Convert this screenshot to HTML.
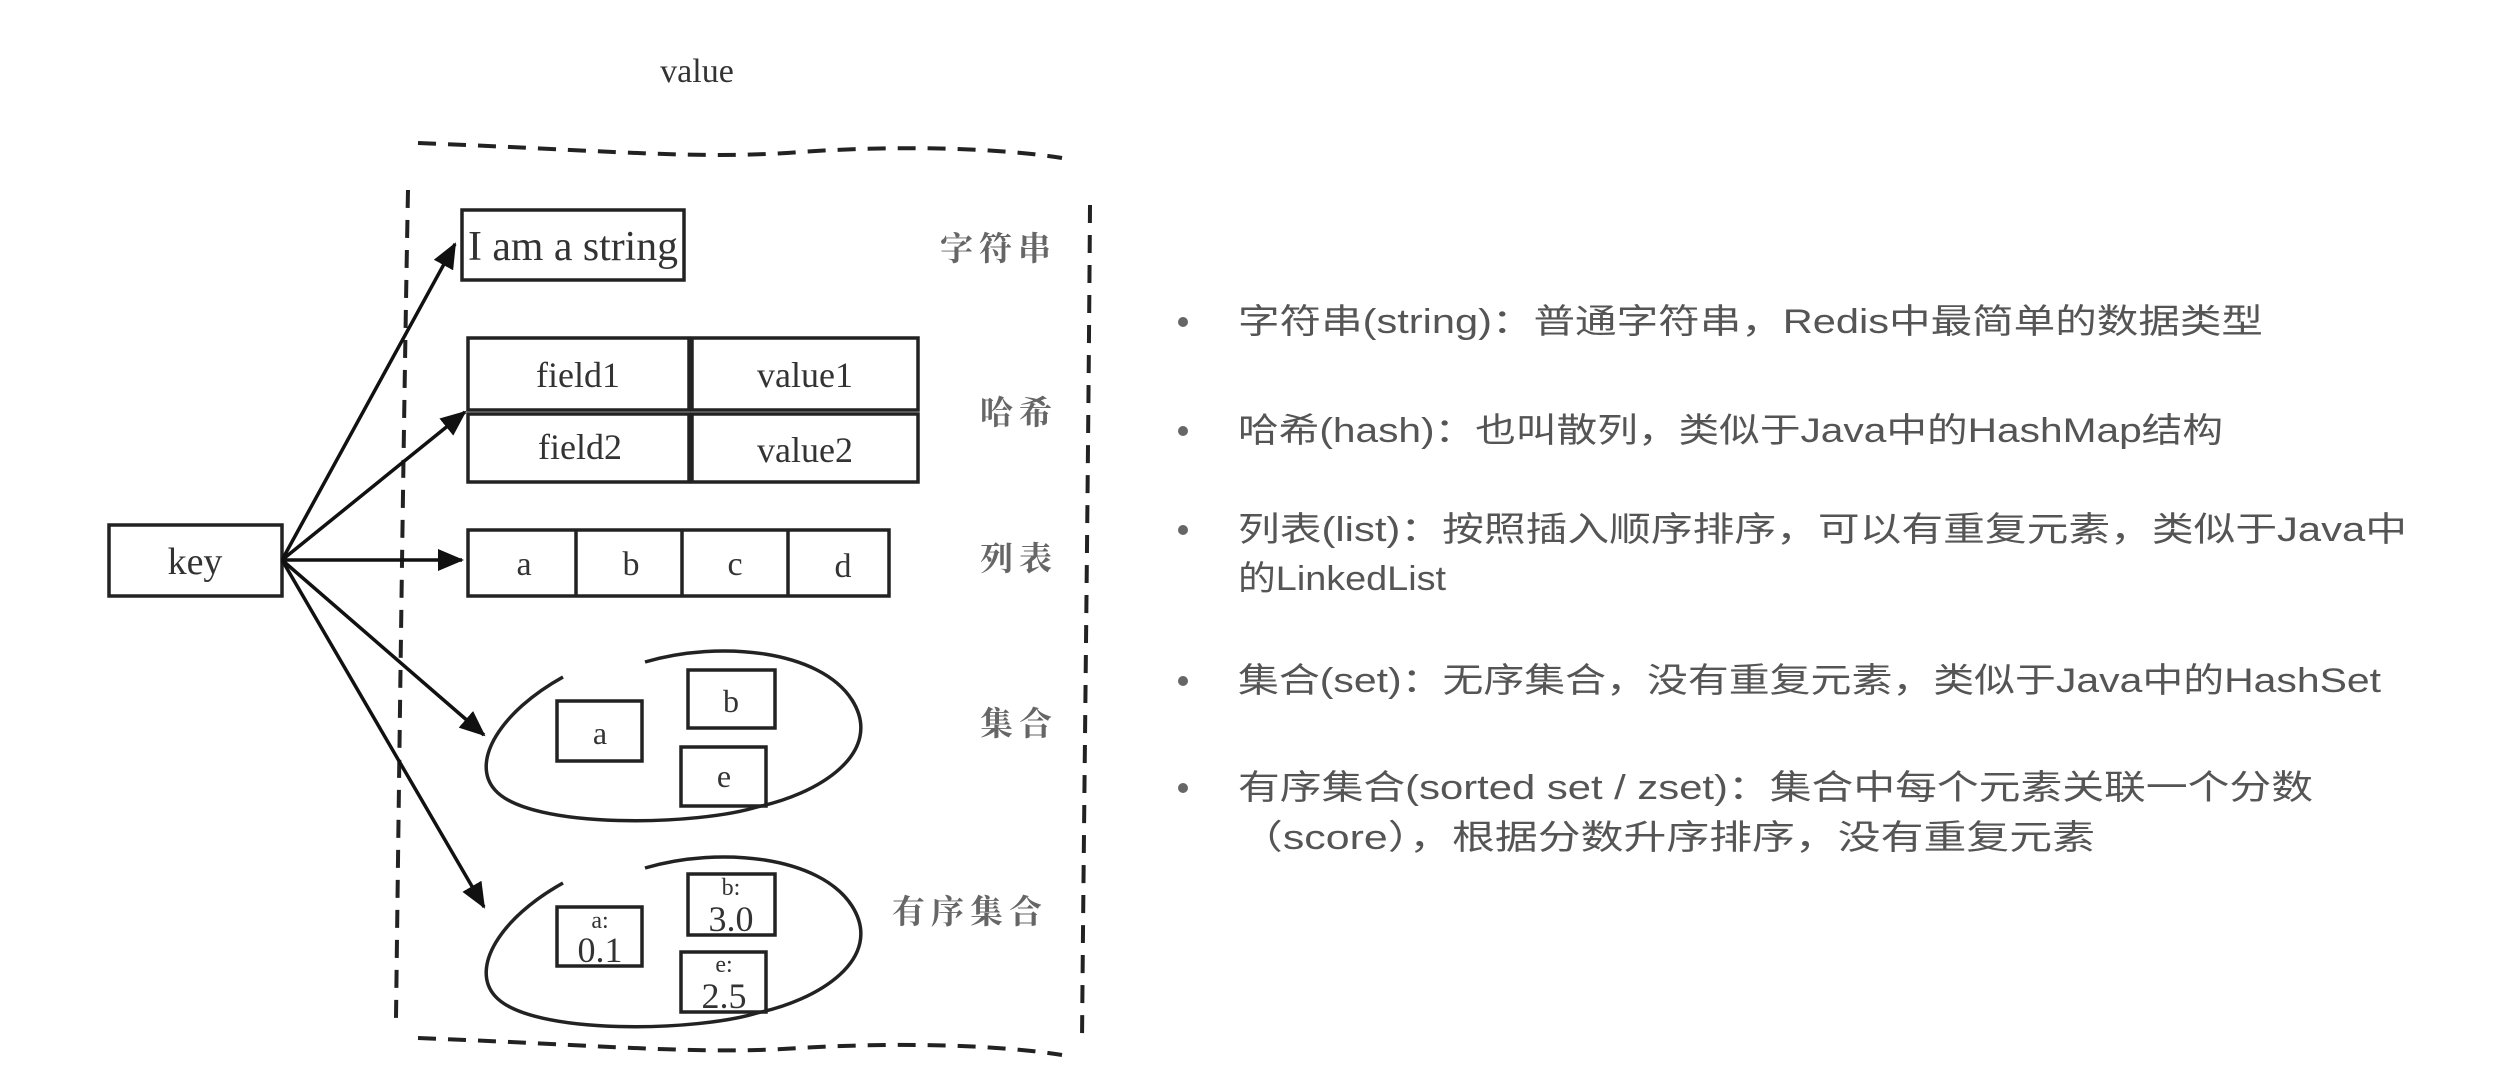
<!DOCTYPE html>
<html><head><meta charset="utf-8"><style>
html,body{margin:0;padding:0;background:#fff;}
svg{display:block;}
.s{font-family:"Liberation Serif",serif;fill:#333;}
.c{font-family:"Liberation Sans","Noto Sans CJK SC",sans-serif;fill:#555;font-size:34px;}
.h{font-family:"Noto Serif CJK SC","Noto Sans CJK SC",serif;fill:#666;font-size:33px;letter-spacing:6px;font-weight:bold;}
</style></head><body>
<svg width="2511" height="1088" viewBox="0 0 2511 1088" xmlns="http://www.w3.org/2000/svg">
<defs>
<marker id="ar2" markerWidth="26" markerHeight="22" refX="24" refY="11" orient="auto" markerUnits="userSpaceOnUse"><path d="M0,0 L26,11 L0,22 z" fill="#111"/></marker></defs>
<rect width="2511" height="1088" fill="#fff"/>
<text x="697" y="82" class="s" font-size="34" text-anchor="middle">value</text>
<g stroke="#222" stroke-width="4" fill="none" stroke-dasharray="18 12">
<path d="M418,143 C600,150 700,160 800,152 C900,145 1000,148 1062,158"/>
<path d="M408,190 C404,400 400,700 396,1018"/>
<path d="M1090,205 C1088,500 1084,800 1082,1042"/>
<path d="M418,1038 C600,1045 700,1055 800,1048 C900,1042 1000,1045 1062,1055"/>
</g>
<g stroke="#222" stroke-width="3.5" fill="none">
<rect x="109" y="525" width="173" height="71"/>
<rect x="462" y="210" width="222" height="70"/>
<rect x="468" y="338" width="221" height="72"/>
<rect x="692" y="338" width="226" height="72"/>
<rect x="468" y="414" width="221" height="68"/>
<rect x="692" y="414" width="226" height="68"/>
<rect x="468" y="530" width="421" height="66"/>
<line x1="576" y1="530" x2="576" y2="596"/>
<line x1="682" y1="530" x2="682" y2="596"/>
<line x1="788" y1="530" x2="788" y2="596"/>
<rect x="557" y="701" width="85" height="60"/>
<rect x="688" y="670" width="87" height="58"/>
<rect x="681" y="747" width="85" height="59"/>
<path d="M563,677 C500,712 470,762 495,790 C530,830 700,826 760,806"/>
<path d="M645,662 C720,640 820,650 852,700 C885,752 820,795 752,808"/>
<rect x="557" y="907" width="85" height="59"/>
<rect x="688" y="874" width="87" height="61"/>
<rect x="681" y="952" width="85" height="60"/>
<path d="M563,883 C500,918 470,968 495,996 C530,1036 700,1032 760,1012"/>
<path d="M645,868 C720,846 820,856 852,906 C885,958 820,1001 752,1014"/>
</g>
<g stroke="#111" stroke-width="3.5" fill="none" marker-end="url(#ar2)">
<line x1="282" y1="560" x2="455" y2="244"/>
<line x1="282" y1="560" x2="465" y2="412"/>
<line x1="282" y1="560" x2="462" y2="560"/>
<line x1="282" y1="560" x2="484" y2="735"/>
<line x1="282" y1="560" x2="484" y2="907"/>
</g>
<text x="195" y="574" class="s" font-size="38" text-anchor="middle">key</text>
<text x="573" y="260" class="s" font-size="42" text-anchor="middle" textLength="210" lengthAdjust="spacingAndGlyphs">I am a string</text>
<text x="578" y="387" class="s" font-size="36" text-anchor="middle">field1</text>
<text x="805" y="387" class="s" font-size="36" text-anchor="middle">value1</text>
<text x="580" y="459" class="s" font-size="36" text-anchor="middle">field2</text>
<text x="805" y="462" class="s" font-size="36" text-anchor="middle">value2</text>
<text x="524" y="575" class="s" font-size="34" text-anchor="middle">a</text>
<text x="631" y="575" class="s" font-size="34" text-anchor="middle">b</text>
<text x="735" y="575" class="s" font-size="34" text-anchor="middle">c</text>
<text x="843" y="577" class="s" font-size="34" text-anchor="middle">d</text>
<text x="600" y="744" class="s" font-size="32" text-anchor="middle">a</text>
<text x="731" y="712" class="s" font-size="32" text-anchor="middle">b</text>
<text x="724" y="787" class="s" font-size="32" text-anchor="middle">e</text>
<text x="600" y="928" class="s" font-size="24" text-anchor="middle">a:</text>
<text x="600" y="962" class="s" font-size="36" text-anchor="middle">0.1</text>
<text x="731" y="895" class="s" font-size="24" text-anchor="middle">b:</text>
<text x="731" y="931" class="s" font-size="36" text-anchor="middle">3.0</text>
<text x="724" y="972" class="s" font-size="24" text-anchor="middle">e:</text>
<text x="724" y="1008" class="s" font-size="36" text-anchor="middle">2.5</text>
<text x="940" y="260" class="h">字符串</text>
<text x="980" y="424" class="h">哈希</text>
<text x="980" y="570" class="h">列表</text>
<text x="980" y="735" class="h">集合</text>
<text x="892" y="923" class="h">有序集合</text>
<g fill="#666"><circle cx="1183" cy="322" r="5"/><circle cx="1183" cy="431" r="5"/><circle cx="1183" cy="530" r="5"/><circle cx="1183" cy="681" r="5"/><circle cx="1183" cy="788" r="5"/></g>
<text x="1238" y="333" class="c" textLength="1025" lengthAdjust="spacingAndGlyphs">字符串(string)：普通字符串，Redis中最简单的数据类型</text>
<text x="1238" y="442" class="c" textLength="985" lengthAdjust="spacingAndGlyphs">哈希(hash)：也叫散列，类似于Java中的HashMap结构</text>
<text x="1238" y="541" class="c" textLength="1169" lengthAdjust="spacingAndGlyphs">列表(list)：按照插入顺序排序，可以有重复元素，类似于Java中</text>
<text x="1238" y="590" class="c" textLength="208" lengthAdjust="spacingAndGlyphs">的LinkedList</text>
<text x="1238" y="692" class="c" textLength="1143" lengthAdjust="spacingAndGlyphs">集合(set)：无序集合，没有重复元素，类似于Java中的HashSet</text>
<text x="1238" y="799" class="c" textLength="1075" lengthAdjust="spacingAndGlyphs">有序集合(sorted set / zset)：集合中每个元素关联一个分数</text>
<text x="1240" y="849" class="c" textLength="855" lengthAdjust="spacingAndGlyphs">（score），根据分数升序排序，没有重复元素</text>
</svg>
</body></html>
